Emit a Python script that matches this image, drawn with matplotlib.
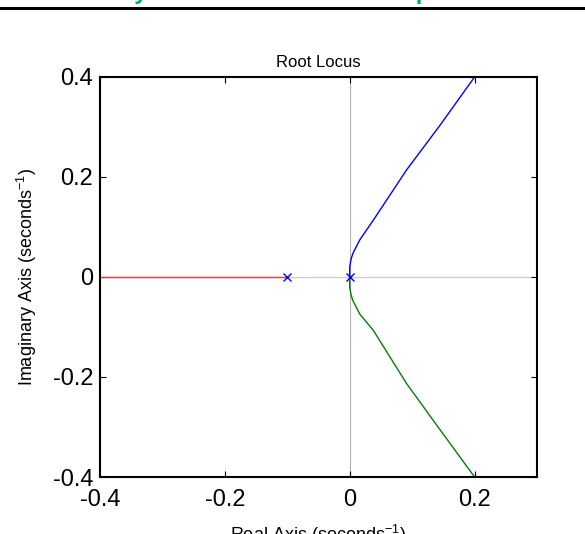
import matplotlib
matplotlib.use("Agg")
import matplotlib.pyplot as plt

plt.rcParams['font.family'] = ['Liberation Sans', 'DejaVu Sans']
plt.rcParams['mathtext.fontset'] = 'custom'
plt.rcParams['mathtext.rm'] = 'Liberation Sans'
plt.rcParams['mathtext.it'] = 'Liberation Sans'

# open-loop poles
pole_re = [-0.1, 0.0]
pole_im = [0.0, 0.0]

# branch on the real axis
red_re = [-0.4, -0.1]
red_im = [0.0, 0.0]

# upper branch
blue_re = [0.0, 0.0, 0.002, 0.005, 0.016, 0.038, 0.091, 0.145, 0.2]
blue_im = [0.0, 0.02, 0.035, 0.047, 0.074, 0.114, 0.214, 0.304, 0.4]

# lower branch
green_re = [0.0, 0.0, 0.002, 0.005, 0.016, 0.038, 0.091, 0.145, 0.2]
green_im = [0.0, -0.02, -0.035, -0.047, -0.074, -0.107, -0.213, -0.306, -0.4]

xticks = [-0.4, -0.2, 0, 0.2]
xtick_labels = ['-0.4', '-0.2', '0', '0.2']
yticks = [-0.4, -0.2, 0, 0.2, 0.4]
ytick_labels = ['-0.4', '-0.2', '0', '0.2', '0.4']

fig = plt.figure(figsize=(5.85, 5.34), dpi=100)

# slide header, cut off at the top (only descenders show)
fig.text(0.455, 1.0 + 0.5 / 534, 'Analysis of Root Locus Example', color='#00b050',
         fontsize=17, fontweight='bold', ha='center', va='baseline')
fig.add_artist(plt.Line2D([0, 1], [1 - 7.5 / 534, 1 - 7.5 / 534], color='black', lw=2.2,
                          transform=fig.transFigure))

ax = fig.add_axes([100 / 585, 1 - 477 / 534, 437 / 585, 400 / 534])

ax.axhline(0, color='0.8', lw=0.9, zorder=1)
ax.axvline(0, color='0.7', lw=0.8, zorder=1)

ax.plot(red_re, red_im, color='#e04040', lw=1.0, zorder=2)
ax.plot(blue_re, blue_im, color='#0000ff', lw=1.0, zorder=2)
ax.plot(green_re, green_im, color='#008000', lw=1.0, zorder=2)
ax.plot(pole_re, pole_im, 'x', color='#0000ff', ms=6, mew=1.0, zorder=3)

ax.set_xlim(-0.4, 0.3)
ax.set_ylim(-0.4, 0.4)
ax.set_xticks(xticks)
ax.set_xticklabels(xtick_labels)
ax.set_yticks(yticks)
ax.set_yticklabels(ytick_labels)
ax.tick_params(direction='in', length=4, width=0.8, top=True, right=True, labelsize=17)
ax.tick_params(axis='x', pad=9)
ax.tick_params(axis='y', pad=5)
for s in ax.spines.values():
    s.set_linewidth(1.5)

ax.set_title('Root Locus', fontsize=12, pad=7)
ax.set_xlabel('Real Axis (seconds$^{-1}$)', fontsize=13, labelpad=8)
ax.set_ylabel('Imaginary Axis (seconds$^{-1}$)', fontsize=13, labelpad=10)

fig.savefig('out.png', dpi=100)
